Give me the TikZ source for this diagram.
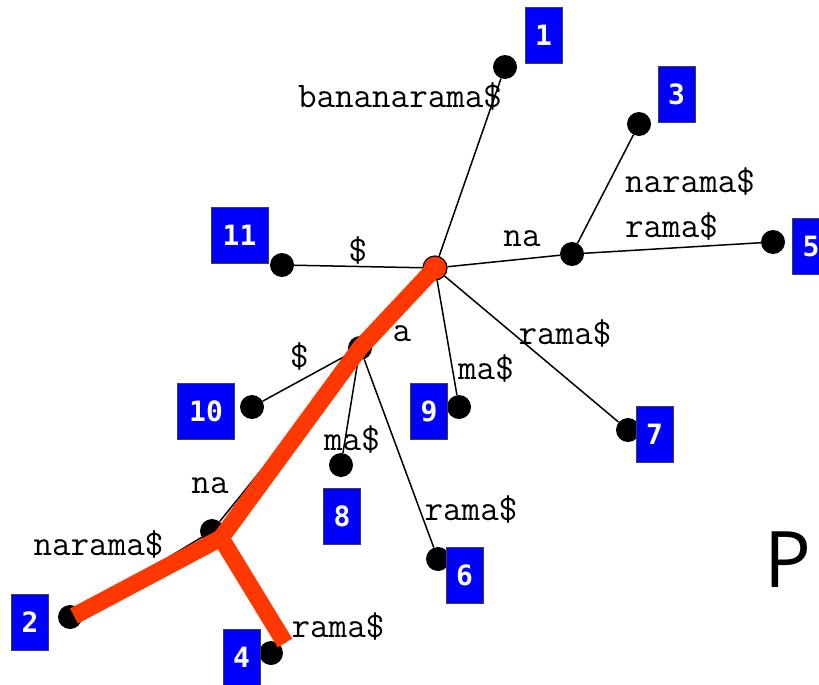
\documentclass[tikz,border=0pt]{standalone}
\usepackage{fontspec}
\newfontfamily\numfont{DejaVu Sans Mono}
\newfontfamily\bigfont{Open Sans}
\usetikzlibrary{shapes.geometric}
\definecolor{pathred}{RGB}{255,56,0}
\definecolor{boxblue}{RGB}{0,0,255}
\tikzset{
    leaf/.style = {
        circle, fill=black,
        minimum size=24pt, inner sep=0pt
    },
    inner/.style = {
        circle, fill=black,
        minimum size=24pt, inner sep=0pt
    },
    rootnode/.style = {
        circle, draw, fill=pathred, line width=1.2pt,
        minimum size=24pt, inner sep=0pt
    },
    numbox/.style = {
        rectangle, draw=black!75, fill=boxblue, text=white,
        minimum width=37pt, minimum height=56pt, inner sep=0pt,
        font=\numfont\bfseries\fontsize{28}{30}\selectfont
    },
    widebox/.style = {
        numbox, minimum width=57pt
    },
    lbl/.style = {
        inner sep=0pt,
        font=\ttfamily\fontsize{36}{40}\selectfont
    },
    edge/.style = {
        line width=1.5pt
    },
    hilite/.style = {
        line width=17pt, pathred
    }
}

\begin{document}
\begin{tikzpicture}[x=1pt, y=-1pt]
\useasboundingbox (0,0) rectangle (819,685);

% internal nodes
\node (root) [rootnode] at (435,268) {};
\node (na1) [inner] at (572,254) {};
\node (a) [inner] at (360,348) {};
\node (na2) [inner] at (212,531) {};

% leaves
\node (l1) [leaf] at (505,67) {};
\node (l2) [leaf] at (70,617) {};
\node (l3) [leaf] at (639,124) {};
\node (l4) [leaf] at (271,653) {};
\node (l5) [leaf] at (773,242) {};
\node (l6) [leaf] at (438,559) {};
\node (l7) [leaf] at (628,430) {};
\node (l8) [leaf] at (341,465) {};
\node (l9) [leaf] at (459,407) {};
\node (l10) [leaf] at (252,407) {};
\node (l11) [leaf] at (282,265) {};

% suffix numbers
\node (b1) [numbox] at (543.5,35) {1};
\node (b2) [numbox] at (30,622) {2};
\node (b3) [numbox] at (676.5,94) {3};
\node (b4) [numbox] at (241.5,657) {4};
\node (b5) [numbox] at (811,246.5) {5};
\node (b6) [numbox] at (464.5,575.5) {6};
\node (b7) [numbox] at (654.5,434.5) {7};
\node (b8) [numbox] at (342,516.5) {8};
\node (b9) [numbox] at (429,411) {9};
\node (b10) [widebox] at (206,411) {10};
\node (b11) [widebox] at (239.5,235) {11};

% highlighted path, ends under the orange band
\coordinate (bend) at (221,538);
\coordinate (end2) at (74,616);
\coordinate (end4) at (285,643);

% edges
\draw [edge] (root) -- (l1);
\draw [edge] (root) -- (na1);
\draw [edge] (na1) -- (l3);
\draw [edge] (na1) -- (l5);
\draw [edge] (root) -- (l11);
\draw [edge] (root) -- (a);
\draw [edge] (root) -- (l9);
\draw [edge] (root) -- (l7);
\draw [edge] (a) -- (l10);
\draw [edge] (a) -- (l8);
\draw [edge] (a) -- (l6);
\draw [edge] (a) -- (na2);
\draw [edge] (na2) -- (l2);
\draw [edge] (na2) -- (end4);

% edge labels
\node (t1) [lbl] at (400,97) {bananarama\$};
\node (tna1) [lbl] at (522,239) {na};
\node (t3) [lbl] at (690,181.5) {narama\$};
\node (t5) [lbl] at (671.5,226.5) {rama\$};
\node (t11) [lbl] at (358,250.5) {\$};
\node (ta) [lbl] at (402,334) {a};
\node (t10) [lbl] at (299.5,356) {\$};
\node (t9) [lbl] at (486,368) {ma\$};
\node (t7) [lbl] at (565,333) {rama\$};
\node (t8) [lbl] at (352,439) {ma\$};
\node (t6) [lbl] at (471,509) {rama\$};
\node (tna2) [lbl] at (210,486) {na};
\node (t2) [lbl] at (98.5,544) {narama\$};
\node (t4) [lbl] at (338,626) {rama\$};

\draw [hilite] (root.center) -- (a.center) -- (bend) -- (end2);
\draw [hilite] (bend) -- (end4);

\node (pmark) [inner sep=0pt, font=\bigfont\fontsize{78}{80}\selectfont] at (788,560) {P};

\end{tikzpicture}
\end{document}
